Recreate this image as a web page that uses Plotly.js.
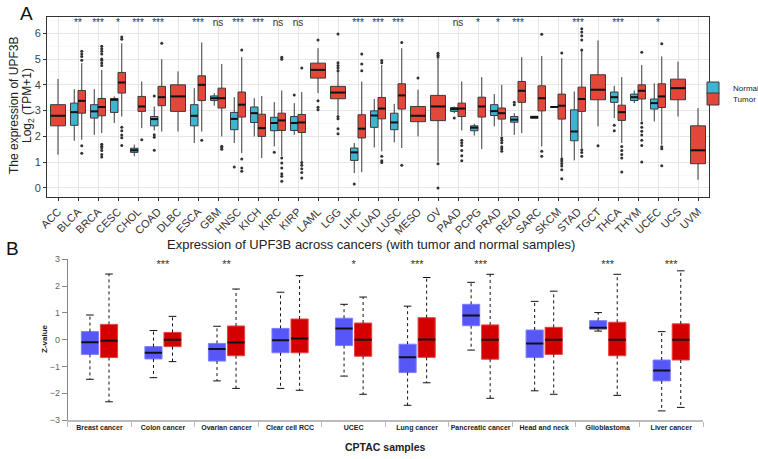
<!DOCTYPE html>
<html>
<head>
<meta charset="utf-8">
<script src="https://cdn.plot.ly/plotly-3.0.1.min.js"></script>
<style>html,body{margin:0;padding:0;background:#fff;}#chart{width:758px;height:459px;}</style>
</head>
<body>
<div id="chart"></div>
<script>
// ---------- Panel A data (TCGA, log2(TPM+1)) ----------
const catsA = ["ACC","BLCA","BRCA","CESC","CHOL","COAD","DLBC","ESCA","GBM","HNSC","KICH","KIRC","KIRP","LAML","LGG","LIHC","LUAD","LUSC","MESO","OV","PAAD","PCPG","PRAD","READ","SARC","SKCM","STAD","TGCT","THCA","THYM","UCEC","UCS","UVM"];
const sigA = ["","**","***","*","***","***","","***","ns","***","***","ns","ns","","","***","***","***","","","ns","*","*","***","","","***","","***","","*","",""];

const normQ1  = [null,2.43,2.71,2.93,1.38,2.41,null,2.41,3.39,2.26,2.54,2.22,2.23,null,null,1.07,2.35,2.26,null,null,2.97,2.22,2.81,2.55,2.70,3.13,1.83,null,3.32,3.39,3.06,null,null];
const normMed = [null,2.94,2.97,3.42,1.46,2.67,null,2.80,3.48,2.68,2.90,2.52,2.52,null,null,1.38,2.81,2.54,null,null,3.06,2.34,2.98,2.65,2.75,3.14,2.19,null,3.52,3.52,3.29,null,null];
const normQ3  = [null,3.29,3.23,3.47,1.54,2.77,null,3.23,3.57,2.93,3.14,2.74,2.77,null,null,1.55,2.99,2.90,null,null,3.12,2.41,3.23,2.77,2.78,3.15,3.03,null,3.72,3.64,3.45,null,null];
const normLo  = [null,1.83,2.06,2.52,1.23,2.23,null,1.74,3.19,1.74,2.00,1.61,2.06,null,null,0.58,1.57,1.77,null,null,2.90,2.03,2.39,2.06,2.70,3.13,1.07,null,2.71,3.29,2.58,null,null];
const normHi  = [null,3.83,3.83,3.55,1.68,3.16,null,3.87,3.68,3.52,3.48,3.33,3.29,null,null,1.74,3.45,3.26,null,null,3.16,2.49,3.64,2.90,2.78,3.15,3.74,null,3.96,3.78,4.06,null,null];

const tumQ1  = [2.41,2.90,2.80,3.68,2.97,3.19,2.97,3.39,3.10,2.75,2.00,2.23,2.15,4.26,3.46,1.94,2.68,3.06,2.57,2.61,2.77,2.75,2.67,3.32,2.99,2.67,2.97,3.42,2.62,3.45,3.12,3.42,0.94];
const tumMed = [2.80,3.38,3.14,4.09,3.16,3.52,3.55,4.00,3.48,3.23,2.32,2.62,2.54,4.58,3.70,2.30,3.08,3.59,2.80,3.16,3.08,3.16,2.90,3.77,3.48,3.19,3.45,3.81,2.94,3.77,3.55,3.87,1.46];
const tumQ3  = [3.23,3.78,3.47,4.48,3.55,3.94,4.00,4.35,3.87,3.72,2.86,2.90,2.85,4.84,3.94,2.84,3.51,4.04,3.16,3.59,3.29,3.52,3.10,4.13,3.96,3.64,3.91,4.39,3.21,4.00,4.04,4.22,2.41];
const tumLo  = [1.29,1.87,2.13,2.77,2.32,2.19,2.19,2.19,2.00,1.35,1.16,1.23,1.03,3.68,2.84,0.61,1.42,1.55,2.00,1.03,2.23,1.51,2.00,2.13,1.61,1.16,1.55,2.39,1.74,2.58,1.68,2.77,0.32];
const tumHi  = [4.23,4.84,4.58,5.61,4.13,4.99,4.52,5.64,4.81,5.07,3.57,3.78,3.72,5.42,4.55,4.13,4.77,5.42,3.81,5.03,4.13,4.30,4.00,5.07,5.12,5.03,5.38,5.72,4.30,4.77,5.10,4.90,3.10];

// outliers (category index, value)
const normOutCat = [5,5,5,5,9,11,12,15,20,23,23,28,28];
const normOutVal = [3.57,2.06,1.97,1.46,0.81,1.39,3.61,0.15,2.71,3.32,3.23,2.43,2.22];
const tumOutCat = [1,1,1,1,1,1, 2,2,2,2,2,2,2,2,2,2,2,2,2,2, 3,3,3,3,3,3,3, 4, 5, 7, 8,8,8, 9,9,9,9, 11,11,11,11,11,11,11,11, 12,12,12,12,12,12, 13,13,13,13, 14,14,14,14,14,14,14,14,14, 15,15,15, 16,16,16,16,16, 17,17, 18, 19,19,19,19,19, 20,20,20,20,20,20, 22,22,22,22,22,22, 24,24,24, 25,25,25,25,25,25,25, 26,26,26,26,26,26,26,26, 27, 28,28,28,28,28, 29,29,29,29,29,29,29,29, 30,30,30,30];
const tumOutVal = [5.30,5.20,5.10,4.95,1.64,1.35, 5.50,5.40,5.30,5.20,5.00,4.95,4.85,4.75,1.70,1.62,1.55,1.45,1.30,1.20, 5.85,5.77,2.35,2.22,2.05,1.95,1.65, 1.87, 5.61, 1.85, 1.62,1.57,1.50, 5.35,1.12,0.77,0.65, 5.07,4.99,1.16,0.97,0.77,0.55,0.45,0.26, 4.65,0.99,0.88,0.75,0.60,0.39, 5.74,3.38,3.13,3.03, 5.97,4.86,4.75,4.65,4.55,2.77,2.68,2.30,2.10, 5.20,4.81,4.55, 4.94,4.86,1.23,1.06,0.99, 5.64,0.88, 4.26, 5.22,5.15,5.08,0.94,0.00, 1.85,1.75,1.65,1.45,1.25,1.06, 1.94,1.85,1.75,1.60,1.52,1.42, 5.96,1.42,1.23, 5.23,1.12,1.05,0.95,0.85,0.71,0.36, 6.17,6.05,5.90,5.74,5.35,1.48,1.38,1.23, 1.64, 1.61,1.45,1.30,1.16,0.62, 5.26,2.52,2.35,2.20,2.05,1.85,1.65,1.01, 5.59,1.60,1.52,0.86];

// ---------- Panel B data (CPTAC, Z-value) ----------
const catsB = ["Breast cancer","Colon cancer","Ovarian cancer","Clear cell RCC","UCEC","Lung cancer","Pancreatic cancer","Head and neck","Glioblastoma","Liver cancer"];
const sigB = ["","***","**","","*","***","***","","***","***"];
const bNormQ1  = [-0.55,-0.72,-0.80,-0.49,-0.22,-1.23,0.52,-0.67,0.39,-1.54];
const bNormMed = [-0.10,-0.49,-0.35,-0.02,0.42,-0.66,0.90,-0.14,0.44,-1.15];
const bNormQ3  = [0.30,-0.26,-0.14,0.42,0.80,-0.17,1.32,0.36,0.71,-0.76];
const bNormLo  = [-1.48,-1.42,-1.54,-1.82,-1.36,-2.45,-0.39,-1.91,0.32,-2.66];
const bNormHi  = [0.92,0.34,0.50,1.77,1.32,1.25,2.14,1.43,1.01,0.30];
const bTumQ1  = [-0.67,-0.26,-0.60,-0.49,-0.62,-0.66,-0.73,-0.55,-0.60,-0.76];
const bTumMed = [-0.04,0.00,-0.11,0.04,0.00,0.01,0.00,0.00,0.00,0.00];
const bTumQ3  = [0.57,0.27,0.51,0.77,0.62,0.82,0.55,0.46,0.65,0.59];
const bTumLo  = [-2.32,-0.82,-1.82,-1.89,-2.04,-1.61,-2.19,-2.04,-2.08,-2.53];
const bTumHi  = [2.45,0.87,1.89,2.39,1.59,2.32,2.44,1.81,2.44,2.57];

// ---------- build ----------
const FONT = "Liberation Sans, Arial, sans-serif";
const colN = "#3db5d0", colT = "#e2483a";
const OFF = 0.1875, WP = 0.375, WS = 0.75;
const idxAll = catsA.map((c,i)=>i);
const paired = idxAll.filter(i=>normMed[i]!==null);
const single = idxAll.filter(i=>normMed[i]===null);
const pick = (arr, ids) => ids.map(i=>arr[i]);

function segs(xs, ys, half){
  const X=[],Y=[];
  xs.forEach((x,k)=>{X.push(x-half,x+half,null);Y.push(ys[k],ys[k],null);});
  return {X,Y};
}
function vsegs(xs, y0, y1){
  const X=[],Y=[];
  xs.forEach((x,k)=>{X.push(x,x,null);Y.push(y0[k],y1[k],null);});
  return {X,Y};
}

const traces = [];
const boxA = (ids, pos, q1,med,q3,lo,hi, w, col, name, show, leg) => ({
  type:"box", xaxis:"x", yaxis:"y", name:name, showlegend:show, legend:leg,
  x: pos, q1: pick(q1,ids), median: pick(med,ids), q3: pick(q3,ids),
  lowerfence: pick(lo,ids), upperfence: pick(hi,ids),
  width: w, fillcolor: col, line:{color:"#3a3a3a", width:1}, whiskerwidth:0,
  hoverinfo:"skip"
});
traces.push(boxA(paired, paired.map(i=>i-OFF), normQ1,normMed,normQ3,normLo,normHi, WP, colN, "Normal", true, "legend"));
traces.push(boxA(paired, paired.map(i=>i+OFF), tumQ1,tumMed,tumQ3,tumLo,tumHi, WP, colT, "Tumor", true, "legend2"));
traces.push(boxA(single, single, tumQ1,tumMed,tumQ3,tumLo,tumHi, WS, colT, "Tumor", false, "legend2"));

{
  const posN = paired.map(i=>i-OFF), posT = paired.map(i=>i+OFF);
  const a = segs(posN, pick(normMed,paired), WP/2);
  const b = segs(posT, pick(tumMed,paired), WP/2);
  const c = segs(single, pick(tumMed,single), WS/2);
  traces.push({type:"scatter", mode:"lines", xaxis:"x", yaxis:"y", showlegend:false, hoverinfo:"skip",
    x:[...a.X,...b.X,...c.X], y:[...a.Y,...b.Y,...c.Y], line:{color:"#111", width:2}});
}
traces.push({type:"scatter", mode:"markers", xaxis:"x", yaxis:"y", showlegend:false, hoverinfo:"skip",
  x: normOutCat.map(i=>i-OFF), y: normOutVal, marker:{color:"#333", size:3}});
traces.push({type:"scatter", mode:"markers", xaxis:"x", yaxis:"y", showlegend:false, hoverinfo:"skip",
  x: tumOutCat.map(i=> normMed[i]===null ? i : i+OFF), y: tumOutVal, marker:{color:"#333", size:3}});
{
  const ids = idxAll.filter(i=>sigA[i]!=="");
  traces.push({type:"scatter", mode:"text", xaxis:"x", yaxis:"y", showlegend:false, hoverinfo:"skip",
    x: ids, y: ids.map(()=>6.36), text: pick(sigA,ids), textfont:{family:FONT, size:10, color:"#333"}});
}

// ---------- panel B ----------
const idxB = catsB.map((c,i)=>i);
const OB = 0.15, WB = 0.27, CAP = 0.06;
const posBN = idxB.map(i=>i-OB), posBT = idxB.map(i=>i+OB);
const boxB = (pos,q1,med,q3,fill,lc) => ({
  type:"box", xaxis:"x2", yaxis:"y2", showlegend:false, hoverinfo:"skip",
  x: pos, q1:q1, median:med, q3:q3, lowerfence:q1, upperfence:q3,
  width: WB, fillcolor: fill, line:{color:lc, width:1}, whiskerwidth:0
});
{
  const w1 = vsegs(posBN, bNormQ3, bNormHi), w2 = vsegs(posBN, bNormQ1, bNormLo);
  const w3 = vsegs(posBT, bTumQ3, bTumHi),  w4 = vsegs(posBT, bTumQ1, bTumLo);
  traces.push({type:"scatter", mode:"lines", xaxis:"x2", yaxis:"y2", showlegend:false, hoverinfo:"skip",
    x:[...w1.X,...w2.X,...w3.X,...w4.X], y:[...w1.Y,...w2.Y,...w3.Y,...w4.Y], line:{color:"#111", width:1, dash:"dot"}});
  const c1 = segs(posBN, bNormHi, CAP), c2 = segs(posBN, bNormLo, CAP);
  const c3 = segs(posBT, bTumHi, CAP),  c4 = segs(posBT, bTumLo, CAP);
  traces.push({type:"scatter", mode:"lines", xaxis:"x2", yaxis:"y2", showlegend:false, hoverinfo:"skip",
    x:[...c1.X,...c2.X,...c3.X,...c4.X], y:[...c1.Y,...c2.Y,...c3.Y,...c4.Y], line:{color:"#111", width:1}});
}
traces.push(boxB(posBN, bNormQ1, bNormMed, bNormQ3, "#5757f7", "#7d7dff"));
traces.push(boxB(posBT, bTumQ1, bTumMed, bTumQ3, "#d40000", "#e64040"));
{
  const m1 = segs(posBN, bNormMed, WB/2), m2 = segs(posBT, bTumMed, WB/2);
  traces.push({type:"scatter", mode:"lines", xaxis:"x2", yaxis:"y2", showlegend:false, hoverinfo:"skip",
    x:[...m1.X,...m2.X], y:[...m1.Y,...m2.Y], line:{color:"#111", width:2}});
}
{
  const ids = idxB.filter(i=>sigB[i]!=="");
  traces.push({type:"scatter", mode:"text", xaxis:"x2", yaxis:"y2", showlegend:false, hoverinfo:"skip",
    x: ids, y: ids.map(()=>2.76), text: pick(sigB,ids), textfont:{family:FONT, size:11, color:"#333"}});
}

const W = 758, H = 459;
const px = v => v / W, py = v => 1 - v / H;
const legBase = {xanchor:"left", yanchor:"middle", font:{size:8, color:"#222"}, bgcolor:"rgba(0,0,0,0)",
                 itemwidth:30, tracegroupgap:0};

const layout = {
  width: W, height: H, autosize:false,
  margin:{l:0,r:0,t:0,b:0, autoexpand:false},
  paper_bgcolor:"#fff", plot_bgcolor:"#fff",
  font:{family:FONT, color:"#333"},
  showlegend:true,
  legend: Object.assign({x:px(693), y:py(88)}, legBase),
  legend2: Object.assign({x:px(693), y:py(99)}, legBase),
  boxmode:"overlay",
  xaxis:{domain:[px(47), px(709)], anchor:"y", range:[-0.55, 32.55], automargin:false,
         tickmode:"array", tickvals: idxAll, ticktext: catsA, tickangle:-45,
         tickfont:{size:11, color:"#333"}, ticks:"outside", ticklen:3, tickcolor:"#333",
         showline:true, mirror:true, linecolor:"#333", linewidth:1,
         showgrid:true, gridcolor:"#e6e6e6", gridwidth:1, zeroline:false},
  yaxis:{domain:[py(197), py(17)], anchor:"x", range:[-0.35, 6.63], automargin:false,
         tickmode:"linear", tick0:0, dtick:1, tickfont:{size:11, color:"#444"},
         ticks:"outside", ticklen:3, tickcolor:"#333",
         showline:true, mirror:true, linecolor:"#333", linewidth:1,
         showgrid:true, gridcolor:"#e6e6e6", gridwidth:1, zeroline:false,
         minor:{dtick:0.5, tick0:0, showgrid:true, gridcolor:"#f2f2f2", gridwidth:0.5}},
  xaxis2:{domain:[px(67.7), px(703)], anchor:"y2", range:[-0.5, 9.5], automargin:false,
          tickmode:"array", tickvals: idxB, ticktext: catsB, ticks:"", tickangle:0,
          tickfont:{family:FONT, size:7, color:"#222", weight:"bold"},
          minor:{ticks:"outside", ticklen:5, tickcolor:"#bbb", tick0:-0.5, dtick:1, tickwidth:1},
          showline:true, linecolor:"#bbb", linewidth:2, showgrid:false, zeroline:false},
  yaxis2:{domain:[py(420), py(259.3)], anchor:"x2", range:[-3, 3], automargin:false,
          tickmode:"linear", tick0:-3, dtick:1, ticks:"outside", ticklen:5, tickcolor:"#888",
          tickfont:{size:9, color:"#666"}, showline:true, linecolor:"#888", linewidth:1,
          showgrid:false, zeroline:false},
  annotations:[
    {xref:"paper", yref:"paper", x:px(26), y:py(14), text:"A", showarrow:false, font:{size:19, color:"#111"}, xanchor:"center", yanchor:"middle"},
    {xref:"paper", yref:"paper", x:px(12), y:py(249), text:"B", showarrow:false, font:{size:19, color:"#111"}, xanchor:"center", yanchor:"middle"},
    {xref:"paper", yref:"paper", x:px(14), y:py(106), text:"The expression of UPF3B", textangle:-90, showarrow:false, font:{size:12, color:"#222"}, xanchor:"center", yanchor:"middle"},
    {xref:"paper", yref:"paper", x:px(28), y:py(106), text:"Log<sub>2</sub> (TPM+1)", textangle:-90, showarrow:false, font:{size:12, color:"#222"}, xanchor:"center", yanchor:"middle"},
    {xref:"paper", yref:"paper", x:px(371), y:py(245), text:"Expression of UPF3B across cancers (with tumor and normal samples)", showarrow:false, font:{size:13, color:"#222"}, xanchor:"center", yanchor:"middle"},
    {xref:"paper", yref:"paper", x:px(385), y:py(447), text:"CPTAC samples", showarrow:false, font:{size:10.5, color:"#222", weight:"bold"}, xanchor:"center", yanchor:"middle"},
    {xref:"paper", yref:"paper", x:px(44), y:py(339), text:"Z-value", textangle:-90, showarrow:false, font:{size:8, color:"#222", weight:"bold"}, xanchor:"center", yanchor:"middle"}
  ]
};

Plotly.newPlot("chart", traces, layout, {staticPlot:true, displayModeBar:false});
</script>
</body>
</html>
